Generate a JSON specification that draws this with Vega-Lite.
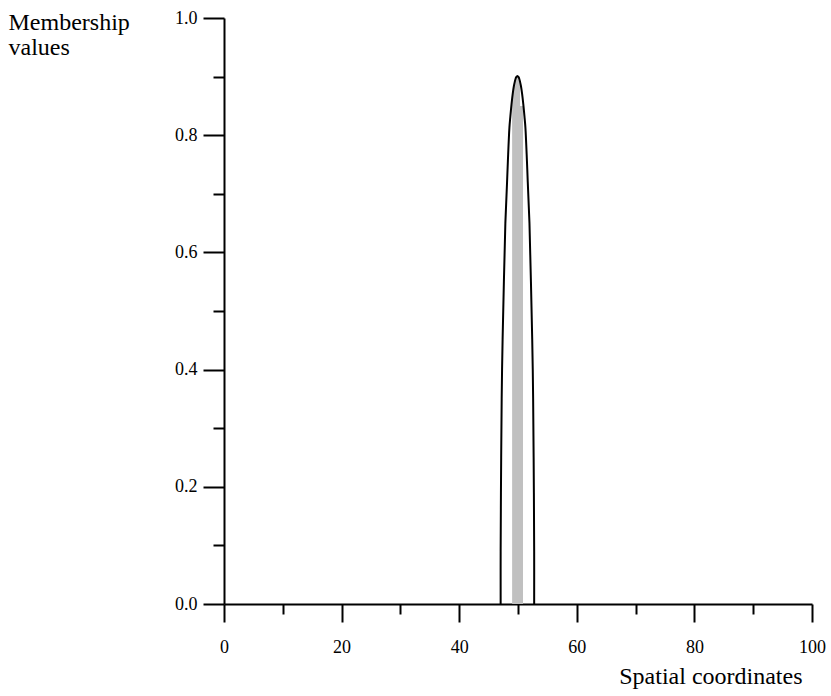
{
  "$schema": "https://vega.github.io/schema/vega-lite/v6.json",
  "width": 588,
  "height": 586,
  "autosize": "none",
  "padding": {"left": 224, "top": 18, "right": 19, "bottom": 92},
  "background": "white",
  "config": {
    "view": {"stroke": null},
    "font": "Liberation Serif",
    "axis": {
      "grid": false,
      "domainColor": "black",
      "domainWidth": 2,
      "tickColor": "black",
      "tickWidth": 2,
      "labelColor": "black",
      "labelFont": "Liberation Serif",
      "labelFontSize": 18,
      "titleFont": "Liberation Serif",
      "titleFontSize": 24,
      "titleFontWeight": "normal",
      "titleColor": "black"
    }
  },
  "datasets": {
    "gray": [
      {"x": 49.0, "y": 0.862},
      {"x": 49.3, "y": 0.884},
      {"x": 49.45, "y": 0.891},
      {"x": 49.6, "y": 0.8967},
      {"x": 49.7, "y": 0.899},
      {"x": 49.9, "y": 0.901},
      {"x": 50.1, "y": 0.899},
      {"x": 50.2, "y": 0.8967},
      {"x": 50.34, "y": 0.8915},
      {"x": 50.35, "y": 0.85},
      {"x": 50.85, "y": 0.85}
    ],
    "curve": [
      {"o": 1, "x": 47.05, "y": 0.0},
      {"o": 2, "x": 47.05, "y": 0.09},
      {"o": 3, "x": 47.14, "y": 0.25},
      {"o": 4, "x": 47.29, "y": 0.4},
      {"o": 5, "x": 47.6, "y": 0.55},
      {"o": 6, "x": 47.85, "y": 0.65},
      {"o": 7, "x": 48.14, "y": 0.72},
      {"o": 8, "x": 48.28, "y": 0.756},
      {"o": 9, "x": 48.54, "y": 0.813},
      {"o": 10, "x": 48.7, "y": 0.832},
      {"o": 11, "x": 48.9, "y": 0.853},
      {"o": 12, "x": 49.1, "y": 0.8705},
      {"o": 13, "x": 49.3, "y": 0.884},
      {"o": 14, "x": 49.45, "y": 0.891},
      {"o": 15, "x": 49.6, "y": 0.8967},
      {"o": 16, "x": 49.7, "y": 0.899},
      {"o": 17, "x": 49.9, "y": 0.901},
      {"o": 18, "x": 50.1, "y": 0.899},
      {"o": 19, "x": 50.2, "y": 0.8967},
      {"o": 20, "x": 50.35, "y": 0.891},
      {"o": 21, "x": 50.5, "y": 0.884},
      {"o": 22, "x": 50.7, "y": 0.8705},
      {"o": 23, "x": 50.9, "y": 0.853},
      {"o": 24, "x": 51.1, "y": 0.832},
      {"o": 25, "x": 51.26, "y": 0.813},
      {"o": 26, "x": 51.52, "y": 0.756},
      {"o": 27, "x": 51.66, "y": 0.72},
      {"o": 28, "x": 51.95, "y": 0.65},
      {"o": 29, "x": 52.2, "y": 0.55},
      {"o": 30, "x": 52.51, "y": 0.4},
      {"o": 31, "x": 52.66, "y": 0.25},
      {"o": 32, "x": 52.75, "y": 0.09},
      {"o": 33, "x": 52.75, "y": 0.0}
    ]
  },
  "layer": [
    {
      "data": {"name": "gray"},
      "mark": {"type": "area", "color": "#c0c0c0", "interpolate": "linear"},
      "encoding": {
        "x": {
          "field": "x", "type": "quantitative",
          "scale": {"domain": [0, 100], "nice": false, "zero": false},
          "axis": {
            "orient": "bottom",
            "values": [0, 20, 40, 60, 80, 100],
            "tickSize": 18,
            "labelPadding": 16,
            "labelFlush": false,
            "title": "Spatial coordinates",
            "titleAlign": "right",
            "titleAnchor": null,
            "titleBaseline": "alphabetic",
            "titleX": 578,
            "titleY": 79
          }
        },
        "y": {
          "field": "y", "type": "quantitative",
          "scale": {"domain": [0, 1], "nice": false},
          "axis": {
            "orient": "left",
            "values": [0, 0.2, 0.4, 0.6, 0.8, 1.0],
            "format": ".1f",
            "tickSize": 21,
            "labelPadding": 6,
            "labelFlush": false,
            "title": ["Membership", "values"],
            "titleAngle": 0,
            "titleAlign": "left",
            "titleAnchor": null,
            "titleBaseline": "alphabetic",
            "titleLineHeight": 25,
            "titleX": -216,
            "titleY": 11
          }
        }
      }
    },
    {
      "data": {"name": "curve"},
      "mark": {"type": "line", "color": "black", "strokeWidth": 2, "interpolate": "catmull-rom"},
      "encoding": {
        "x": {
          "field": "x", "type": "quantitative",
          "scale": {"domain": [0, 100], "nice": false, "zero": false},
          "axis": {
            "orient": "bottom",
            "values": [10, 30, 50, 70, 90],
            "tickSize": 10,
            "labels": false,
            "domain": false,
            "title": null
          }
        },
        "y": {
          "field": "y", "type": "quantitative",
          "scale": {"domain": [0, 1], "nice": false},
          "axis": {
            "orient": "left",
            "values": [0.1, 0.3, 0.5, 0.7, 0.9],
            "tickSize": 11,
            "labels": false,
            "domain": false,
            "title": null
          }
        },
        "order": {"field": "o", "type": "quantitative"}
      }
    }
  ],
  "resolve": {"axis": {"x": "independent", "y": "independent"}}
}
